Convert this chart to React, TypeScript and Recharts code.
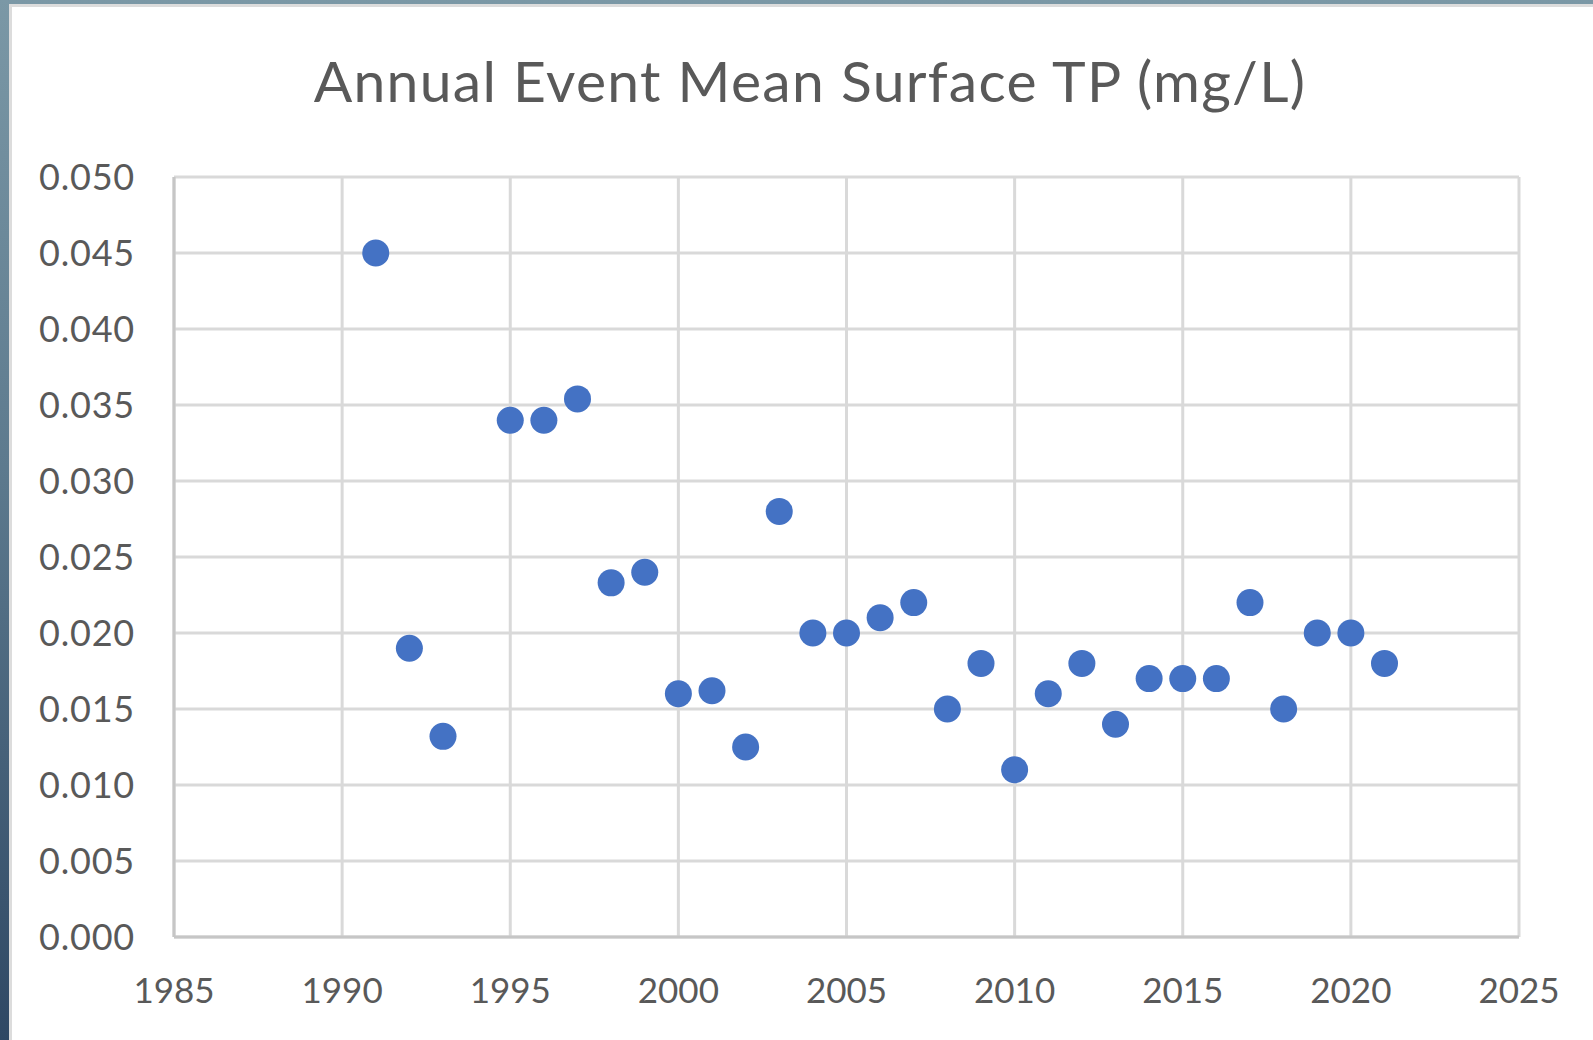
import React from "react";
import { CartesianGrid, Scatter, ScatterChart, XAxis, YAxis } from "recharts";

const YEARS = [1991, 1992, 1993, 1995, 1996, 1997, 1998, 1999, 2000, 2001, 2002, 2003, 2004, 2005, 2006,
  2007, 2008, 2009, 2010, 2011, 2012, 2013, 2014, 2015, 2016, 2017, 2018, 2019, 2020, 2021];
const TP = [0.045, 0.019, 0.0132, 0.034, 0.034, 0.0354, 0.0233, 0.024, 0.016, 0.0162, 0.0125, 0.028, 0.02, 0.02, 0.021,
  0.022, 0.015, 0.018, 0.011, 0.016, 0.018, 0.014, 0.017, 0.017, 0.017, 0.022, 0.015, 0.02, 0.02, 0.018];
const X_TICKS = [1985, 1990, 1995, 2000, 2005, 2010, 2015, 2020, 2025];
const Y_TICKS = [0, 0.005, 0.01, 0.015, 0.02, 0.025, 0.03, 0.035, 0.04, 0.045, 0.05];

const data = YEARS.map((year, i) => ({ year, tp: TP[i] }));

const FONT = "Lato, 'Open Sans', sans-serif";
const INK = "#595959";

function Dot(props: any) {
  const { cx, cy } = props;
  if (cx == null || cy == null) return null;
  return <circle cx={cx} cy={cy} r={13.5} fill="#4472c4" />;
}

export default function App() {
  return (
    <div style={{ position: "fixed", left: 0, top: 0, width: 1593, height: 1040, overflow: "hidden",
      background: "linear-gradient(180deg, #7b98a6 0%, #5d7a8e 45%, #2f4864 100%)" }}>
      <div style={{ position: "absolute", left: 9, top: 4, right: 0, bottom: 0, background: "#dcdcdc" }} />
      <div style={{ position: "absolute", left: 12, top: 7, right: 0, bottom: 0, background: "#ffffff" }} />
      <div style={{ position: "absolute", left: 0, top: 0 }}>
        <ScatterChart width={1593} height={1040} margin={{ top: 177, right: 74, bottom: 43, left: 74 }}>
          <CartesianGrid stroke="#d9d9d9" strokeWidth={3} />
          <XAxis type="number" dataKey="year" domain={[1985, 2025]} ticks={X_TICKS} interval={0}
            axisLine={{ stroke: "#c6c6c6", strokeWidth: 3 }} tickLine={false} tickSize={0} tickMargin={41} height={60}
            tick={{ fill: INK, fontSize: 35, fontFamily: FONT }} />
          <YAxis type="number" dataKey="tp" domain={[0, 0.05]} ticks={Y_TICKS} interval={0} width={100}
            tickFormatter={(v) => Number(v).toFixed(3)}
            axisLine={{ stroke: "#c6c6c6", strokeWidth: 3 }} tickLine={false} tickSize={0} tickMargin={39}
            tick={{ fill: INK, fontSize: 36, fontFamily: FONT, letterSpacing: 0.8 }} />
          <Scatter data={data} shape={<Dot />} isAnimationActive={false} />
        </ScatterChart>
      </div>
      <svg width={1593} height={1040} style={{ position: "absolute", left: 0, top: 0, pointerEvents: "none" }}>
        <text x={810} y={102} textAnchor="middle" fill={INK} fontSize={57} fontFamily={FONT} letterSpacing={1.3}>
          Annual Event Mean Surface TP (mg/L)
        </text>
      </svg>
    </div>
  );
}
